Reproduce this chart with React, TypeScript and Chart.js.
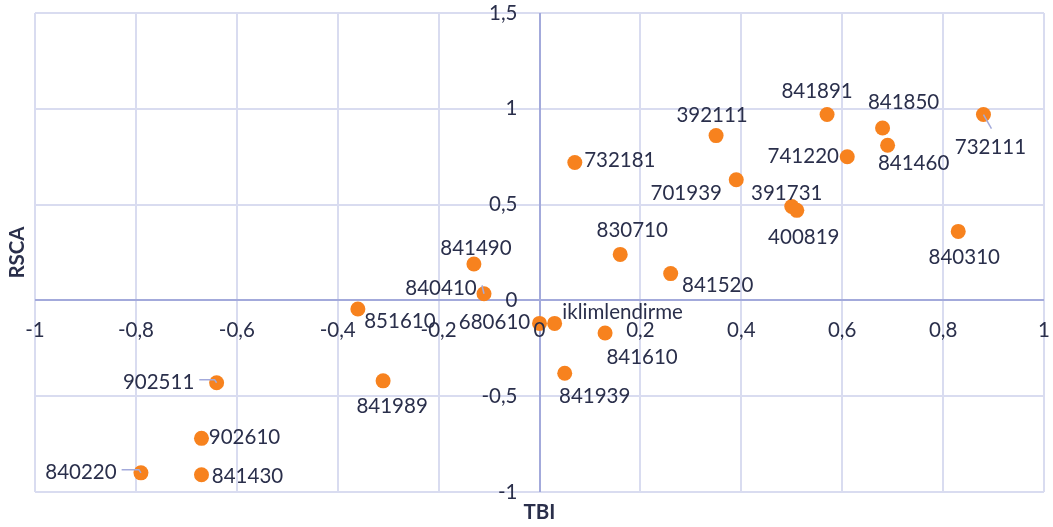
import { useEffect, useRef } from 'react';
import { Chart, registerables } from 'chart.js';

Chart.register(...registerables);

// ---- data ----
const codes = [
  '732181', '392111', '841891', '841850', '841460', '732111', '741220', '701939',
  '391731', '400819', '840310', '830710', '841520', '841490', '840410', '851610',
  '680610', 'iklimlendirme', '841610', '841939', '902511', '841989', '902610', '841430', '840220',
];
const tbi = [
  0.07, 0.35, 0.57, 0.68, 0.69, 0.88, 0.61, 0.39,
  0.50, 0.51, 0.83, 0.16, 0.26, -0.13, -0.11, -0.36,
  0.0, 0.03, 0.13, 0.05, -0.64, -0.31, -0.67, -0.67, -0.79,
];
const rsca = [
  0.72, 0.86, 0.97, 0.90, 0.81, 0.97, 0.75, 0.63,
  0.49, 0.47, 0.36, 0.24, 0.14, 0.19, 0.035, -0.045,
  -0.12, -0.12, -0.17, -0.38, -0.43, -0.42, -0.72, -0.91, -0.90,
];
const xTicks = [-1, -0.8, -0.6, -0.4, -0.2, 0, 0.2, 0.4, 0.6, 0.8, 1];
const yTicks = [-1, -0.5, 0, 0.5, 1, 1.5];
const xTitle = 'TBI';
const yTitle = 'RSCA';

// ---- label placement (style, relative to each point) ----
const labelOffsets: [number, number][] = [
  [45, -2], [-4, -20], [-10, -23], [21, -26], [26, 18], [7, 33], [-44, 0], [-50, 14],
  [-5, -13], [7, 27], [6, 26], [12, -24], [47, 12], [2, -16], [-43, -5], [42, 12],
  [-45, -1], [68, -11], [37, 24], [30, 23], [-58, 0], [9, 26], [43, -1], [46, 2], [-60, 0],
];
const leaders: (string | null)[] = [
  null, null, null, null, null, 'diag', null, null,
  null, null, null, null, null, null, 'h', null,
  null, null, null, null, 'h', null, null, null, 'h',
];

const TEXT = '#2a2f4b';
const FONT = 'Lato, "Open Sans", sans-serif';
const FS = 20.5;
const GRID = '#d9dcf0';
const AXIS = '#a3aadb';
const DOT = '#f7821e';

const fmt = (v: number) => String(Number(v.toFixed(2))).replace('.', ',');

const overlay = {
  id: 'overlay',
  beforeDatasetsDraw(chart: any) {
    const { ctx, chartArea } = chart;
    const xs = chart.scales.x;
    const ys = chart.scales.y;
    const x0 = Math.round(xs.getPixelForValue(0));
    const y0 = Math.round(ys.getPixelForValue(0));
    ctx.save();
    ctx.strokeStyle = AXIS;
    ctx.lineWidth = 2;
    ctx.beginPath();
    ctx.moveTo(x0, chartArea.top);
    ctx.lineTo(x0, chartArea.bottom);
    ctx.moveTo(chartArea.left, y0);
    ctx.lineTo(chartArea.right, y0);
    ctx.stroke();
    ctx.restore();
  },
  afterDatasetsDraw(chart: any) {
    const { ctx, chartArea } = chart;
    const xs = chart.scales.x;
    const ys = chart.scales.y;
    const x0 = xs.getPixelForValue(0);
    const y0 = ys.getPixelForValue(0);
    ctx.save();
    ctx.fillStyle = TEXT;
    ctx.font = `${FS}px ${FONT}`;
    ctx.textBaseline = 'middle';
    // axis tick labels
    ctx.textAlign = 'center';
    xTicks.forEach((v) => ctx.fillText(fmt(v), xs.getPixelForValue(v), y0 + 30));
    ctx.textAlign = 'right';
    yTicks.forEach((v) => ctx.fillText(fmt(v), x0 - 22, ys.getPixelForValue(v)));

    // data labels
    const meta = chart.getDatasetMeta(0);
    meta.data.forEach((pt: any, i: number) => {
      const [dx, dy] = labelOffsets[i];
      const lx = pt.x + dx;
      const ly = pt.y + dy;
      ctx.textAlign = 'center';
      ctx.fillStyle = TEXT;
      ctx.fillText(codes[i], lx, ly);
      const lead = leaders[i];
      if (lead) {
        const w = ctx.measureText(codes[i]).width;
        ctx.strokeStyle = AXIS;
        ctx.lineWidth = 1.5;
        ctx.beginPath();
        if (lead === 'h') {
          const sx = lx + w / 2 + 5;
          const ey = ly - 3;
          ctx.moveTo(sx, ey);
          ctx.lineTo(pt.x - 2, ey);
          ctx.lineTo(pt.x, pt.y);
        } else {
          ctx.moveTo(pt.x, pt.y);
          ctx.lineTo(pt.x + 8, pt.y + 14);
        }
        ctx.stroke();
      }
    });

    // axis titles
    ctx.fillStyle = TEXT;
    ctx.font = `bold ${FS}px ${FONT}`;
    ctx.textAlign = 'center';
    ctx.fillText(xTitle, (chartArea.left + chartArea.right) / 2, chartArea.bottom + 20);
    ctx.translate(17, (chartArea.top + chartArea.bottom) / 2);
    ctx.rotate(-Math.PI / 2);
    ctx.fillText(yTitle, 0, 0);
    ctx.restore();
  },
};

export default function App() {
  const ref = useRef<HTMLCanvasElement>(null);
  useEffect(() => {
    document.body.style.margin = '0';
    const canvas = ref.current;
    if (!canvas) return;
    const chart = new Chart(canvas, {
      type: 'scatter',
      data: {
        datasets: [
          {
            data: tbi.map((x, i) => ({ x, y: rsca[i] })),
            backgroundColor: DOT,
            borderColor: DOT,
            borderWidth: 0,
            pointRadius: 7.5,
            pointHoverRadius: 7.5,
          },
        ],
      },
      options: {
        animation: false,
        responsive: true,
        maintainAspectRatio: false,
        events: [],
        layout: { padding: { left: 35, right: 9, top: 13, bottom: 35 } },
        plugins: { legend: { display: false }, tooltip: { enabled: false } },
        scales: {
          x: {
            type: 'linear',
            min: -1,
            max: 1,
            ticks: { stepSize: 0.2, display: false },
            grid: { color: GRID, lineWidth: 2, drawTicks: false },
            border: { display: false },
          },
          y: {
            type: 'linear',
            min: -1,
            max: 1.5,
            ticks: { stepSize: 0.5, display: false },
            grid: { color: GRID, lineWidth: 2, drawTicks: false },
            border: { display: false },
          },
        },
      },
      plugins: [overlay],
    });
    return () => chart.destroy();
  }, []);
  return (
    <div style={{ position: 'relative', width: 1053, height: 527 }}>
      <canvas ref={ref} />
    </div>
  );
}
